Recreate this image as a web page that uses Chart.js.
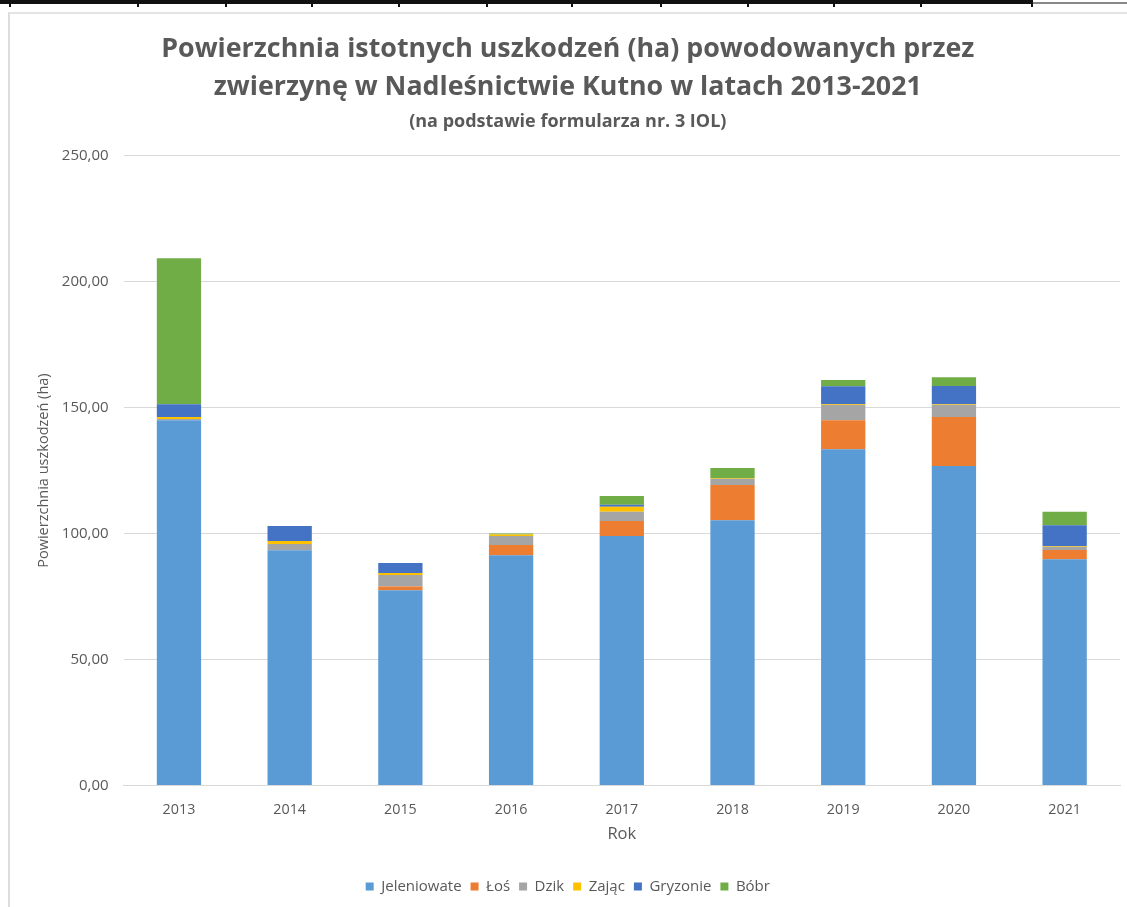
<!DOCTYPE html>
<html>
<head>
<meta charset="utf-8">
<script src="https://cdn.jsdelivr.net/npm/chart.js@4"></script>
<style>
  html, body { margin: 0; padding: 0; background: #fff; }
  body { width: 1127px; height: 907px; position: relative; overflow: hidden; }
  .tbl { position: absolute; left: 0; top: 0; width: 1033px; height: 4px; background: #111; }
  .tbl-rest { position: absolute; left: 1033px; top: 2px; width: 94px; height: 2px; background: #888; }
  .div { position: absolute; top: 0; width: 2px; height: 7px; background: #111; }
  .frame { position: absolute; left: 8px; top: 12px; width: 1119px; height: 895px;
           border-left: 2px solid #dcdcdc; border-top: 2px solid #e4e4e4; box-sizing: border-box; }
  #chart { position: absolute; left: 8px; top: 12px; }
</style>
</head>
<body>
<div class="tbl"></div>
<div class="tbl-rest"></div>
<div id="dividers"></div>
<div class="frame"></div>
<canvas id="chart" width="1119" height="895"></canvas>
<script>
// === Dane ===
const lata = ["2013", "2014", "2015", "2016", "2017", "2018", "2019", "2020", "2021"];
const jeleniowate = [145, 93.4, 77.5, 91.4, 99, 105.3, 133.5, 126.8, 89.8];
const los = [0, 0, 1.5, 4, 6, 14, 11.5, 19.5, 3.7];
const dzik = [0.5, 2.4, 4.5, 3.6, 3.6, 2.4, 6, 4.8, 1.2];
const zajac = [0.8, 1.2, 0.8, 0.6, 2, 0.3, 0.3, 0.3, 0.3];
const gryzonie = [5, 6, 4, 0, 0.8, 0, 7.2, 7.2, 8.3];
const bobr = [58, 0, 0, 0.4, 3.5, 4, 2.5, 3.4, 5.3];
const yTicks = [0, 50, 100, 150, 200, 250];

// kreski tabeli na górze (zrzut ekranu)
const divX = [9, 137, 225, 311, 398, 486, 571, 660, 747, 833, 920, 1031];
const divs = document.getElementById("dividers");
divX.forEach(x => {
  const d = document.createElement("div");
  d.className = "div";
  d.style.left = x + "px";
  divs.appendChild(d);
});

const GREY = "#595959";
const FONT = "'Open Sans', sans-serif";

function ds(label, data, color) {
  return {
    label: label,
    data: data,
    backgroundColor: color,
    borderWidth: 0,
    categoryPercentage: 1,
    barPercentage: 0.4,
  };
}

new Chart(document.getElementById("chart"), {
  type: "bar",
  data: {
    labels: lata,
    datasets: [
      ds("Jeleniowate", jeleniowate, "#5b9bd5"),
      ds("Łoś", los, "#ed7d31"),
      ds("Dzik", dzik, "#a5a5a5"),
      ds("Zając", zajac, "#ffc000"),
      ds("Gryzonie", gryzonie, "#4472c4"),
      ds("Bóbr", bobr, "#70ad47"),
    ],
  },
  options: {
    responsive: false,
    animation: false,
    layout: { padding: { left: 7.6, right: 7, top: 0, bottom: 3 } },
    plugins: {
      title: {
        display: true,
        text: ["Powierzchnia istotnych uszkodzeń (ha) powodowanych przez",
               "zwierzynę w Nadleśnictwie Kutno w latach 2013-2021"],
        color: GREY,
        font: { family: FONT, size: 26.8, weight: "bold", lineHeight: 1.42 },
        padding: { top: 18, bottom: 0 },
      },
      subtitle: {
        display: true,
        text: "(na podstawie formularza nr. 3 IOL)",
        color: GREY,
        font: { family: FONT, size: 18, weight: "bold", lineHeight: 1.2 },
        padding: { top: 5, bottom: 23 },
      },
      legend: {
        position: "bottom",
        labels: {
          color: GREY,
          font: { family: FONT, size: 15 },
          boxWidth: 8,
          boxHeight: 8,
          padding: 9,
        },
      },
      tooltip: { enabled: false },
    },
    scales: {
      x: {
        stacked: true,
        grid: { display: false },
        border: { color: "#d9d9d9", width: 1 },
        ticks: { color: GREY, font: { family: FONT, size: 14.3 }, padding: 8 },
        title: {
          display: true,
          text: "Rok",
          color: GREY,
          font: { family: FONT, size: 16.5 },
          padding: { top: 0, bottom: 26 },
        },
        afterFit(scale) { scale.height = 84.6; },
      },
      y: {
        stacked: true,
        min: 0,
        max: 250,
        afterBuildTicks(scale) { scale.ticks = yTicks.map(v => ({ value: v })); },
        grid: { color: "#d9d9d9", drawTicks: false },
        border: { display: false },
        ticks: {
          color: GREY,
          font: { family: FONT, size: 15 },
          padding: 15,
          callback: v => v.toFixed(2).replace(".", ","),
        },
        title: {
          display: true,
          text: "Powierzchnia uszkodzeń (ha)",
          color: GREY,
          font: { family: FONT, size: 14.5 },
          padding: { top: 20, bottom: 0 },
        },
        afterFit(scale) { scale.width = 108; },
      },
    },
  },
});
</script>
</body>
</html>
